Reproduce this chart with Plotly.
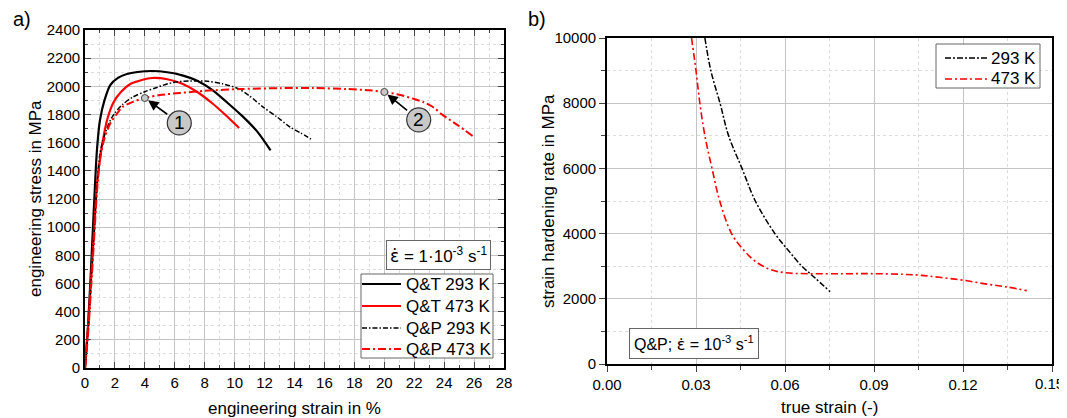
import plotly.graph_objects as go

# ---------------- Panel a data: engineering stress-strain ----------------
qt293_strain = [0, 0.2, 0.4, 0.6, 0.8, 1.0, 1.3, 1.7, 2.2, 2.8, 3.5, 4.5, 5.5, 6.5, 7.5, 8.5, 9.5, 10.5, 11.5, 12.4]
qt293_stress = [0, 300, 700, 1150, 1550, 1760, 1900, 2010, 2060, 2088, 2102, 2109, 2100, 2078, 2040, 1975, 1885, 1790, 1680, 1545]

qt473_strain = [0, 0.2, 0.4, 0.6, 0.8, 1.0, 1.2, 1.5, 1.9, 2.4, 3.0, 3.8, 4.5, 5.5, 6.5, 7.5, 8.5, 9.3, 10.3]
qt473_stress = [0, 280, 620, 960, 1300, 1480, 1619, 1770, 1885, 1960, 2015, 2045, 2059, 2050, 2018, 1960, 1880, 1805, 1704]

qp293_strain = [0, 0.2, 0.4, 0.6, 0.8, 1.0, 1.3, 1.7, 2.0, 2.5, 3.2, 4.0, 4.8, 5.9, 7.0, 8.2, 9.2, 10.2, 11.0, 11.9, 12.8, 13.7, 14.4, 15.1]
qp293_stress = [0, 250, 600, 950, 1300, 1520, 1650, 1760, 1810, 1870, 1924, 1962, 1992, 2028, 2038, 2036, 2018, 1985, 1932, 1853, 1785, 1711, 1670, 1626]

qp473_strain = [0, 0.2, 0.4, 0.6, 0.8, 1.0, 1.3, 1.7, 2.1, 2.5, 3.2, 4.0, 5.0, 6.35, 8.0, 10.4, 13.0, 15.2, 17.5, 19.0, 20.0, 21.0, 22.0, 22.6, 23.3, 23.9, 24.9, 25.9]
qp473_stress = [0, 230, 560, 900, 1250, 1480, 1630, 1740, 1800, 1853, 1890, 1917, 1938, 1953, 1968, 1981, 1987, 1988, 1981, 1972, 1960, 1940, 1910, 1889, 1850, 1797, 1725, 1647]

series_a_names = ["Q&T 293 K", "Q&T 473 K", "Q&P 293 K", "Q&P 473 K"]

marked_strain = [4.0, 20.0]
marked_stress = [1917, 1960]
marked_labels = ["1", "2"]

# ---------------- Panel b data: strain hardening rate ----------------
shr293_strain = [0.033, 0.035, 0.0381, 0.041, 0.0455, 0.050, 0.0566, 0.061, 0.0657, 0.070, 0.0752]
shr293_rate = [10000, 9000, 8000, 7000, 6000, 5000, 4000, 3500, 3000, 2650, 2220]

shr473_strain = [0.0285, 0.030, 0.0313, 0.033, 0.0354, 0.038, 0.042, 0.046, 0.050, 0.055, 0.060, 0.068, 0.080,
                 0.090, 0.100, 0.106, 0.112, 0.120, 0.128, 0.135, 0.1415]
shr473_rate = [10000, 9000, 8000, 7000, 6000, 5000, 4000, 3500, 3150, 2900, 2800, 2770, 2770,
               2770, 2750, 2720, 2660, 2570, 2450, 2360, 2250]

series_b_names = ["293 K", "473 K"]
b_xtick_vals = [0.0, 0.03, 0.06, 0.09, 0.12, 0.15]
b_xtick_text = ["0.00", "0.03", "0.06", "0.09", "0.12", ""]   # last label drawn separately (edge of page)
b_last_tick_label = "0.15"

FONT = "Arial, Liberation Sans, sans-serif"
OFF = 8                      # page body margin
FW, FH = 1067 - OFF, 418 - OFF


def px(xs):
    return (xs - OFF) / FW


def py(ys):
    return 1 - (ys - OFF) / FH


# line styles
sty_qt293 = dict(color="black", width=2.2)
sty_qt473 = dict(color="#ff0000", width=2.2)
sty_qp293 = dict(color="black", width=1.5, dash="5px,2px,1.5px,2px")
sty_qp473 = dict(color="#ff0000", width=2, dash="8px,3px,2px,3px")
sty_b293 = dict(color="black", width=1.5, dash="6px,2px,2px,2px")
sty_b473 = dict(color="#ff0000", width=1.6, dash="7px,3px,2px,3px")

fig = go.Figure()

for xs, ys, name, sty in [(qt293_strain, qt293_stress, series_a_names[0], sty_qt293),
                          (qt473_strain, qt473_stress, series_a_names[1], sty_qt473),
                          (qp293_strain, qp293_stress, series_a_names[2], sty_qp293),
                          (qp473_strain, qp473_stress, series_a_names[3], sty_qp473)]:
    fig.add_trace(go.Scatter(x=xs, y=ys, mode="lines", name=name, showlegend=False,
                             line=dict(**sty, shape="spline", smoothing=0.8), xaxis="x", yaxis="y"))

fig.add_trace(go.Scatter(x=marked_strain, y=marked_stress, mode="markers", showlegend=False,
                         marker=dict(size=7, color="#c8c8c8", line=dict(color="#444", width=1)),
                         xaxis="x", yaxis="y"))

for xs, ys, name, sty in [(shr293_strain, shr293_rate, series_b_names[0], sty_b293),
                          (shr473_strain, shr473_rate, series_b_names[1], sty_b473)]:
    fig.add_trace(go.Scatter(x=xs, y=ys, mode="lines", name=name, showlegend=False,
                             line=dict(**sty, shape="spline"), xaxis="x2", yaxis="y2"))

tickfont = dict(family=FONT, size=15, color="black")
titlefont = dict(family=FONT, size=17, color="black")
major_grid = "#c4c4c4"
minor_grid = "#dcdcdc"

common = dict(showline=True, linecolor="black", linewidth=1.8, showgrid=True, gridcolor=major_grid,
              gridwidth=1, zeroline=False, tickfont=tickfont, automargin=False, tickwidth=1.3,
              ticklabeloverflow="allow")

fig.update_layout(
    width=FW, height=FH,
    margin=dict(l=0, r=0, t=0, b=0),
    paper_bgcolor="white", plot_bgcolor="white",
    font=dict(family=FONT, color="black"),
    showlegend=False,
    xaxis=dict(**common, domain=[px(85), px(504)], range=[0, 28], dtick=2, tick0=0, ticks="inside", ticklen=6,
               mirror="ticks", anchor="y",
               minor=dict(dtick=1, ticks="inside", ticklen=3, tickwidth=1, showgrid=True,
                          gridcolor=minor_grid, griddash="dot", gridwidth=1)),
    yaxis=dict(**common, domain=[py(368), py(30)], range=[0, 2400], dtick=200, tick0=0, ticks="inside", ticklen=6,
               mirror="ticks", anchor="x",
               minor=dict(dtick=100, ticks="inside", ticklen=3, tickwidth=1, showgrid=True,
                          gridcolor=minor_grid, griddash="dot", gridwidth=1)),
    xaxis2=dict(**common, domain=[px(607), px(1052)], range=[0, 0.1500001], tickmode="array",
                tickvals=b_xtick_vals, ticktext=b_xtick_text,
                ticks="outside", ticklen=6, mirror=True, anchor="y2",
                minor=dict(tickmode="linear", tick0=0, dtick=0.015, ticks="outside", ticklen=4, tickwidth=1,
                           showgrid=True, gridcolor=minor_grid, griddash="dot", gridwidth=1)),
    yaxis2=dict(**common, domain=[py(364), py(38)], range=[0, 10000], dtick=2000, tick0=0, tickformat="d",
                ticks="outside", ticklen=6, mirror=True, anchor="x2",
                minor=dict(dtick=1000, ticks="outside", ticklen=4, tickwidth=1, showgrid=True,
                           gridcolor=minor_grid, griddash="dot", gridwidth=1)),
)


def txt(text, xs, ys, size=17, xanchor="center", angle=0, **kw):
    return dict(text=text, x=px(xs), y=py(ys), xref="paper", yref="paper", showarrow=False,
                xanchor=xanchor, yanchor="middle", textangle=angle,
                font=dict(family=FONT, size=size, color="black"), **kw)


EPS = '<span style="font-family:DejaVu Sans">ε̇</span>'

annotations = [
    txt("a)", 22, 19, size=20),
    txt("b)", 537, 19, size=20),
    txt("engineering strain in %", 294, 408),
    txt("engineering stress in MPa", 35, 199, angle=-90),
    txt("true strain (-)", 829, 407),
    txt("strain hardening rate in MPa", 548, 201, angle=-90),
    txt(EPS + " = 1·10<sup>-3</sup> s<sup>-1</sup>", 438, 255, size=17,
        bordercolor="#666", borderwidth=1, borderpad=3, bgcolor="white"),
    txt("Q&P; " + EPS + " = 10<sup>-3</sup> s<sup>-1</sup>", 694, 343, size=16,
        bordercolor="#666", borderwidth=1, borderpad=4, bgcolor="white"),
    dict(text=b_last_tick_label, x=1.0, y=py(383), xref="paper", yref="paper", showarrow=False,
         xanchor="right", yanchor="middle", xshift=-1, font=tickfont),
]

shapes = []

# ---- legend of panel a (box, sample lines, labels) ----
shapes.append(dict(type="rect", xref="paper", yref="paper", x0=px(361), x1=px(493), y0=py(358), y1=py(274),
                   fillcolor="white", line=dict(color="#666", width=1)))
for name, sty, yrow in zip(series_a_names, [sty_qt293, sty_qt473, sty_qp293, sty_qp473], [284, 306, 328, 349]):
    shapes.append(dict(type="line", xref="paper", yref="paper", x0=px(362), x1=px(401), y0=py(yrow), y1=py(yrow),
                       line=sty))
    annotations.append(txt(name, 404, yrow, size=17, xanchor="left"))

# ---- legend of panel b ----
shapes.append(dict(type="rect", xref="paper", yref="paper", x0=px(936), x1=px(1040), y0=py(88), y1=py(44),
                   fillcolor="white", line=dict(color="#666", width=1)))
for name, sty, yrow in zip(series_b_names, [sty_b293, sty_b473], [58, 79]):
    shapes.append(dict(type="line", xref="paper", yref="paper", x0=px(945), x1=px(987), y0=py(yrow), y1=py(yrow),
                       line=sty))
    annotations.append(txt(name, 989, yrow, size=17, xanchor="left"))

# ---- numbered callout circles with arrows ----
callout_pos = [(6.3, 1740), (22.3, 1762)]
for (cx, cy), (mx, my), lab in zip(callout_pos, zip(marked_strain, marked_stress), marked_labels):
    annotations.append(dict(x=mx, y=my, ax=cx, ay=cy, xref="x", yref="y", axref="x", ayref="y",
                            text="", showarrow=True, arrowhead=2, arrowsize=1.3, arrowwidth=1.6,
                            arrowcolor="black", standoff=4, startstandoff=13))
    shapes.append(dict(type="circle", xref="x", yref="y", xsizemode="pixel", ysizemode="pixel",
                       xanchor=cx, yanchor=cy, x0=-12, x1=12, y0=-12, y1=12,
                       fillcolor="#c8c8c8", line=dict(color="#333", width=1.2)))
    annotations.append(dict(x=cx, y=cy, xref="x", yref="y", text=lab, showarrow=False,
                            xanchor="center", yanchor="middle",
                            font=dict(family=FONT, size=19, color="black")))

fig.update_layout(annotations=annotations, shapes=shapes)

fig.write_html("out.html")
